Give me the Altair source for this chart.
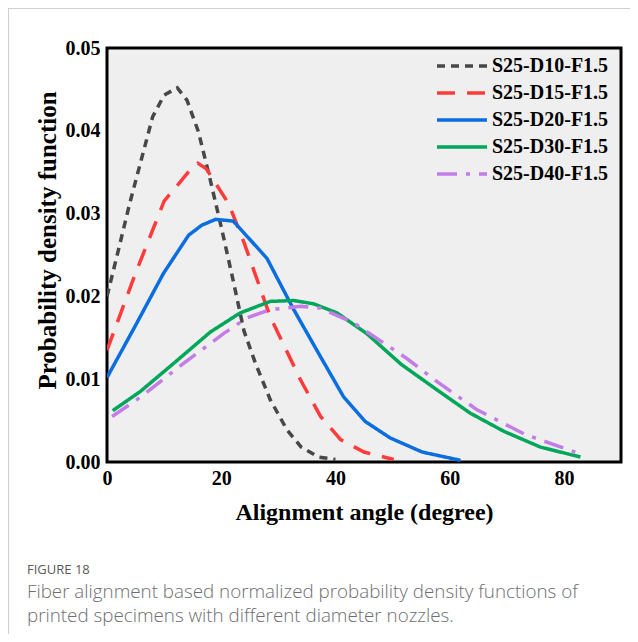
import altair as alt
import pandas as pd

series_names = ["S25-D10-F1.5", "S25-D15-F1.5", "S25-D20-F1.5", "S25-D30-F1.5", "S25-D40-F1.5"]

d10_x = [0, 2, 4, 6, 8, 10, 12.3, 14, 16, 18, 20, 22, 24, 26, 28.6, 31.5, 34, 37, 40]
d10_y = [0.0200, 0.0256, 0.0313, 0.0365, 0.0417, 0.0443, 0.0452, 0.0437, 0.0399, 0.0343, 0.0284, 0.0222, 0.0158, 0.0119, 0.0075, 0.0039, 0.0018, 0.0006, 0.0003]

d15_x = [0, 5, 10, 14.6, 15.9, 17.4, 21.3, 24, 28.6, 33.9, 37.4, 40.9, 45, 50.2]
d15_y = [0.0135, 0.0228, 0.0315, 0.0353, 0.0361, 0.0354, 0.0312, 0.0265, 0.0175, 0.0099, 0.0055, 0.0027, 0.0012, 0.0003]

d20_x = [0, 5, 9.9, 14.3, 16.6, 19, 22.1, 28, 32.7, 37.4, 41.4, 45.2, 49.6, 55.2, 61.9]
d20_y = [0.0102, 0.0165, 0.0228, 0.0274, 0.0286, 0.0293, 0.0291, 0.0246, 0.0184, 0.0127, 0.0079, 0.0049, 0.0029, 0.0012, 0.0002]

d30_x = [1, 5.8, 12, 18.1, 23.3, 28.6, 32.7, 36.2, 40.3, 45.5, 51.5, 57.8, 63.6, 69.5, 75.9, 82.9]
d30_y = [0.0062, 0.0085, 0.0121, 0.0157, 0.0180, 0.0194, 0.0195, 0.0191, 0.0180, 0.0155, 0.0118, 0.0087, 0.0059, 0.0037, 0.0018, 0.0006]

d40_x = [0.9, 6, 13, 20.4, 24.5, 28.6, 33.9, 37.3, 43.2, 52.5, 57.8, 64.8, 73.3, 82]
d40_y = [0.0055, 0.0079, 0.0117, 0.0155, 0.0174, 0.0184, 0.0188, 0.0186, 0.0168, 0.0125, 0.0097, 0.0063, 0.0033, 0.0012]

x_ticks = [0, 20, 40, 60, 80]
y_ticks = [0, 0.01, 0.02, 0.03, 0.04, 0.05]

colors = ["#474747", "#ff3b3b", "#0a6ee0", "#00a65a", "#c47ce6"]
dashes = [[8, 6], [18, 12], [1, 0], [1, 0], [20, 9, 4, 9]]

caption_title = "FIGURE 18"
caption_lines = ["Fiber alignment based normalized probability density functions of",
                 "printed specimens with different diameter nozzles."]

rows = []
for name, xs, ys in zip(series_names, [d10_x, d15_x, d20_x, d30_x, d40_x], [d10_y, d15_y, d20_y, d30_y, d40_y]):
    for i, (a, b) in enumerate(zip(xs, ys)):
        rows.append({"series": name, "x": a, "y": b, "i": i})
df = pd.DataFrame(rows)

serif = "Liberation Serif"
color_scale = alt.Scale(domain=series_names, range=colors)
dash_scale = alt.Scale(domain=series_names, range=dashes)

lines = alt.Chart(df).mark_line(strokeWidth=3.5, clip=True).encode(
    x=alt.X("x:Q", scale=alt.Scale(domain=[0, 90], nice=False, zero=False),
            axis=alt.Axis(values=x_ticks, title="Alignment angle (degree)", grid=False, ticks=False,
                          domain=False, labelFont=serif, labelFontWeight="bold", labelFontSize=20,
                          labelColor="black", labelPadding=6, titleFont=serif, titleFontWeight="bold",
                          titleFontSize=24, titleColor="black", titlePadding=12, labelFlush=False)),
    y=alt.Y("y:Q", scale=alt.Scale(domain=[0, 0.05], nice=False),
            axis=alt.Axis(values=y_ticks, format=".2f", title="Probability density function", grid=False,
                          ticks=False, domain=False, labelFont=serif, labelFontWeight="bold",
                          labelFontSize=20, labelColor="black", labelPadding=7, titleFont=serif,
                          titleFontWeight="bold", titleFontSize=25, titleColor="black", titlePadding=5,
                          labelFlush=False, titleY=192)),
    color=alt.Color("series:N", scale=color_scale, legend=None),
    strokeDash=alt.StrokeDash("series:N", scale=dash_scale, legend=None),
    order="i:Q",
)

# legend built from the series list
leg_df = pd.DataFrame({"series": series_names, "row": list(range(len(series_names)))})
leg_base = alt.Chart(leg_df).transform_calculate(ly="18 + 27 * datum.row")
leg_sym = leg_base.mark_rule(strokeWidth=3.5).encode(
    x=alt.value(330), x2=alt.value(380),
    y=alt.Y("ly:Q", scale=None, axis=None),
    color=alt.Color("series:N", scale=color_scale, legend=None),
    strokeDash=alt.StrokeDash("series:N", scale=dash_scale, legend=None),
)
leg_txt = leg_base.mark_text(align="left", baseline="middle", font=serif, fontWeight="bold",
                             fontSize=20, color="black", dy=0).encode(
    x=alt.value(385), y=alt.Y("ly:Q", scale=None, axis=None), text="series:N")

frame_df = pd.DataFrame({"k": [0]})
border_left = alt.Chart(frame_df).mark_rule(color="#cfcfcf", strokeWidth=1).encode(
    x=alt.value(-98.5), y=alt.value(-40), y2=alt.value(600))
border_top = alt.Chart(frame_df).mark_rule(color="#cfcfcf", strokeWidth=1).encode(
    x=alt.value(-99), x2=alt.value(535), y=alt.value(-39.5))

cap_df = pd.DataFrame({
    "text": [caption_title] + caption_lines,
    "kind": ["head", "body", "body"],
    "row": [0, 1, 2],
})
cap_head = alt.Chart(cap_df).transform_filter(alt.datum.kind == "head").mark_text(
    align="left", baseline="alphabetic", font="Open Sans", fontSize=13, color="#58595b"
).encode(text="text:N", x=alt.value(-80), y=alt.value(526))
cap_body = alt.Chart(cap_df).transform_filter(alt.datum.kind == "body").transform_calculate(
    py="526 + 24 * datum.row"
).mark_text(
    align="left", baseline="alphabetic", font="Open Sans", fontSize=18.8, fontWeight=300, color="#6d6e71"
).encode(text="text:N", x=alt.value(-80), y=alt.Y("py:Q", scale=None, axis=None))

chart = alt.layer(lines, leg_sym, leg_txt, border_left, border_top, cap_head, cap_body).properties(
    width=514, height=414,
    padding={"left": 99, "top": 40, "right": 9, "bottom": 172},
    autosize="none",
    background="white",
).configure_view(fill="#efefef", stroke="black", strokeWidth=3)

chart.save("out.html", embed_options={"renderer": "svg", "actions": False})
